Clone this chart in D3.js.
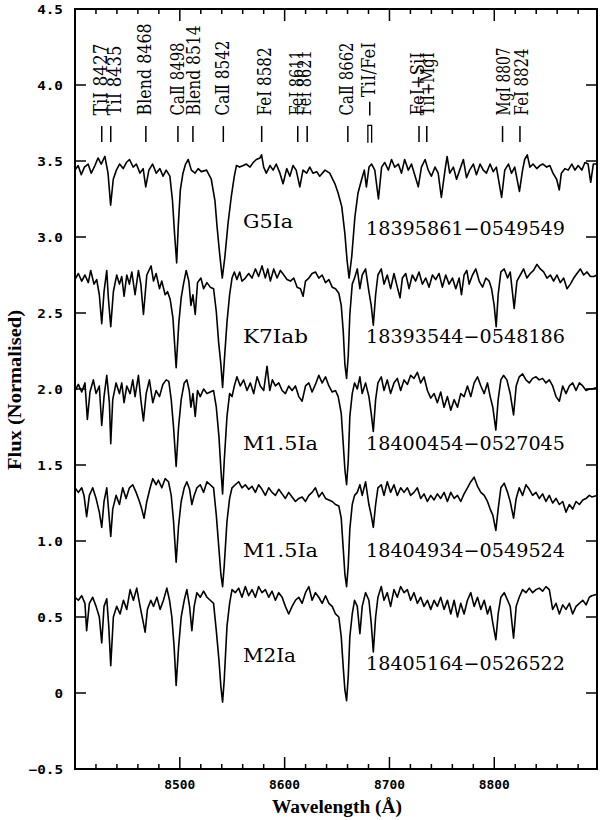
<!DOCTYPE html>
<html><head><meta charset="utf-8">
<script src="https://cdn.jsdelivr.net/npm/d3@7"></script>
<style>body{margin:0;background:#fff}</style>
</head><body><svg id="chart" width="600" height="820"></svg>
<script>
// ---------- DATA ----------
const spectralTypes = ["G5Ia", "K7Iab", "M1.5Ia", "M1.5Ia", "M2Ia"];
const starIds = ["18395861\u22120549549", "18393544\u22120548186", "18400454\u22120527045", "18404934\u22120549524", "18405164\u22120526522"];
const labelFlux = [3.06, 2.30, 1.60, 0.895, 0.204];
const idFlux = [3.013, 2.30, 1.60, 0.895, 0.151];

const specG5Ia = [[8400,3.44],[8403,3.47],[8406,3.41],[8409,3.46],[8412.5,3.48],[8415.5,3.42],[8419,3.47],[8422,3.52],[8425,3.48],[8428.5,3.53],[8431.5,3.42],[8434,3.21],[8436.5,3.38],[8439.5,3.44],[8442.5,3.48],[8446,3.45],[8449,3.49],[8452,3.51],[8455.5,3.46],[8458.5,3.48],[8462,3.42],[8465,3.45],[8467.5,3.33],[8470.5,3.44],[8474,3.48],[8477.5,3.42],[8481,3.45],[8484,3.40],[8487,3.44],[8490.5,3.40],[8493,3.24],[8495,3.02],[8497,2.83],[8498.5,3.07],[8500.5,3.31],[8503,3.42],[8505.5,3.48],[8508,3.51],[8511,3.44],[8514.5,3.42],[8517.5,3.45],[8520.5,3.43],[8525.5,3.44],[8530,3.38],[8533.5,3.24],[8535.5,3.07],[8538,2.89],[8540.5,2.73],[8543,2.87],[8546,3.09],[8549,3.26],[8552,3.40],[8554,3.47],[8557,3.46],[8560.5,3.47],[8563.5,3.48],[8567,3.46],[8570,3.49],[8573,3.51],[8576.5,3.52],[8578,3.54],[8580,3.46],[8582.5,3.42],[8586,3.47],[8589,3.44],[8592,3.48],[8595.5,3.42],[8598.5,3.35],[8602,3.45],[8605,3.40],[8608,3.47],[8611,3.44],[8614.5,3.33],[8617.5,3.44],[8621,3.42],[8624,3.46],[8627,3.42],[8630.5,3.43],[8633.5,3.40],[8638.5,3.44],[8643,3.42],[8648,3.35],[8651,3.29],[8654.5,3.20],[8657.5,3.02],[8659.5,2.85],[8661.5,2.73],[8664,2.87],[8667,3.13],[8670,3.29],[8673.5,3.38],[8676,3.44],[8678,3.33],[8680.5,3.46],[8683,3.48],[8686,3.44],[8689.5,3.25],[8692.5,3.46],[8695.5,3.49],[8699,3.44],[8702,3.51],[8705,3.46],[8708.5,3.48],[8711.5,3.42],[8714.5,3.51],[8718,3.44],[8721,3.48],[8724.5,3.40],[8727.5,3.33],[8730.5,3.46],[8734,3.51],[8737,3.44],[8740,3.40],[8743.5,3.46],[8746.5,3.42],[8749.5,3.26],[8753,3.44],[8755,3.53],[8757.5,3.42],[8761,3.46],[8764,3.38],[8767,3.44],[8770.5,3.51],[8773.5,3.39],[8776.5,3.44],[8780,3.48],[8783,3.41],[8786.5,3.48],[8789.5,3.44],[8792.5,3.42],[8796,3.48],[8799,3.43],[8802,3.46],[8807,3.26],[8810,3.44],[8813.5,3.48],[8816.5,3.42],[8819.5,3.46],[8824,3.30],[8827,3.44],[8829,3.51],[8831.5,3.54],[8834,3.46],[8837,3.48],[8840.5,3.45],[8843.5,3.47],[8846.5,3.48],[8850,3.46],[8853,3.47],[8856,3.42],[8859.5,3.38],[8862,3.31],[8864,3.42],[8867.5,3.45],[8870.5,3.44],[8874,3.48],[8877,3.44],[8880,3.47],[8883.5,3.44],[8886.5,3.49],[8889.5,3.48],[8892,3.36],[8894.5,3.48],[8897.5,3.48]];

const specK7Iab = [[8400,2.72],[8403.2,2.76],[8406.4,2.71],[8409.5,2.75],[8412.7,2.70],[8415,2.78],[8418.1,2.69],[8420.7,2.72],[8423.2,2.62],[8425.5,2.43],[8427.7,2.64],[8430.3,2.78],[8431.8,2.60],[8434.1,2.41],[8436.6,2.64],[8439.8,2.75],[8442.4,2.69],[8444.6,2.74],[8446.8,2.61],[8449.4,2.75],[8451.9,2.69],[8454.2,2.77],[8457.3,2.62],[8460.5,2.78],[8462.8,2.69],[8465.3,2.49],[8468.5,2.75],[8472.6,2.81],[8474.9,2.71],[8477.4,2.76],[8480.6,2.66],[8482.8,2.71],[8486,2.62],[8488.3,2.64],[8490.8,2.59],[8493.4,2.47],[8496.5,2.14],[8499.1,2.44],[8501.3,2.60],[8503.5,2.69],[8506.1,2.78],[8508.6,2.71],[8510.6,2.55],[8512.5,2.62],[8514.7,2.49],[8516.9,2.70],[8520.1,2.73],[8522.7,2.66],[8525.9,2.70],[8529,2.67],[8532.2,2.66],[8534.8,2.51],[8537,2.31],[8539.2,2.16],[8540.8,2.01],[8542.4,2.18],[8545,2.44],[8547.5,2.62],[8549.8,2.73],[8552,2.77],[8554.5,2.72],[8557.1,2.77],[8559.3,2.71],[8562.5,2.73],[8565.7,2.76],[8568.9,2.73],[8572.1,2.79],[8575.2,2.74],[8578.4,2.81],[8581.6,2.73],[8583.9,2.79],[8586.4,2.71],[8589.6,2.79],[8592.8,2.73],[8596,2.78],[8599.2,2.75],[8602.3,2.72],[8605.5,2.71],[8608.7,2.73],[8611.9,2.67],[8615.1,2.66],[8617.6,2.61],[8619.9,2.71],[8623.1,2.73],[8626.2,2.76],[8629.4,2.77],[8632.6,2.73],[8635.8,2.75],[8639,2.70],[8642.2,2.72],[8645.4,2.67],[8648.5,2.66],[8651.7,2.63],[8654,2.55],[8655.9,2.38],[8657.5,2.16],[8659.1,2.07],[8660.7,2.22],[8662.2,2.49],[8664.5,2.69],[8666.7,2.73],[8669.3,2.79],[8671.8,2.66],[8674,2.75],[8677.2,2.79],[8680.4,2.64],[8682.6,2.55],[8684.6,2.42],[8686.8,2.62],[8689,2.75],[8692.2,2.79],[8694.8,2.69],[8697.9,2.75],[8701.1,2.66],[8704.3,2.76],[8707.5,2.67],[8710.1,2.60],[8712.3,2.73],[8715.5,2.76],[8718.7,2.66],[8721.8,2.75],[8725,2.71],[8728.2,2.77],[8731.4,2.69],[8734.6,2.73],[8737.8,2.67],[8741,2.75],[8744.1,2.72],[8747.3,2.76],[8750.5,2.67],[8753.7,2.75],[8756.9,2.69],[8760.1,2.73],[8763.3,2.66],[8766.5,2.73],[8768.7,2.62],[8771.2,2.75],[8773.8,2.78],[8776,2.69],[8779.2,2.75],[8782.4,2.79],[8785.6,2.71],[8788.8,2.67],[8792,2.73],[8795.1,2.71],[8797.4,2.66],[8799.9,2.55],[8801.8,2.41],[8803.7,2.62],[8806.3,2.77],[8809.5,2.79],[8812.7,2.73],[8815.2,2.77],[8819,2.53],[8821.6,2.71],[8824.8,2.75],[8828,2.79],[8831.1,2.73],[8834.3,2.76],[8837.5,2.78],[8840.7,2.82],[8843.9,2.79],[8847.1,2.77],[8850.3,2.73],[8853.5,2.75],[8856.6,2.71],[8859.8,2.75],[8863,2.70],[8866.2,2.73],[8869.4,2.66],[8872.6,2.69],[8875.8,2.73],[8878.9,2.76],[8882.1,2.79],[8885.3,2.75],[8888.5,2.77],[8891.7,2.74],[8895,2.74],[8898,2.75]];

const specM15IaA = [[8400,1.99],[8403.2,2.03],[8406.4,1.98],[8409.5,2.04],[8411.8,1.80],[8414.3,1.98],[8417.5,2.06],[8420.1,1.97],[8423.2,2.02],[8425.5,1.76],[8427.7,1.95],[8430.3,2.09],[8432.8,1.91],[8434.1,1.64],[8436,1.93],[8439.2,2.04],[8442.4,1.97],[8444.6,2.04],[8446.8,1.91],[8449.4,2.02],[8452.6,1.97],[8455.1,2.06],[8457.3,1.95],[8460.5,2.09],[8462.8,1.93],[8465.3,1.79],[8467.9,1.97],[8471,2.06],[8474.2,1.91],[8477.4,1.99],[8480.6,1.95],[8483.8,2.03],[8487,2.06],[8489.5,2.05],[8491.8,1.93],[8494,1.75],[8496.5,1.49],[8498.8,1.75],[8501.3,1.93],[8504.2,2.04],[8506.7,2.06],[8509,1.99],[8510.6,1.88],[8512.5,1.97],[8514.7,1.82],[8516.9,1.99],[8519.5,1.95],[8522.7,2.00],[8525.9,1.97],[8529,1.98],[8532.2,1.99],[8534.8,1.88],[8537.3,1.69],[8539.2,1.47],[8540.8,1.31],[8542.4,1.53],[8545,1.82],[8547.5,1.97],[8549.8,1.95],[8552,2.02],[8554.5,2.08],[8557.7,2.02],[8560.9,2.06],[8564.1,1.99],[8567.3,2.04],[8570.5,1.97],[8573.7,2.08],[8576.8,2.02],[8580,1.99],[8583.2,2.15],[8585.8,1.99],[8588.3,2.06],[8591.2,2.02],[8594.4,2.04],[8597.6,1.99],[8600.7,1.97],[8603.9,2.02],[8607.1,1.99],[8610.3,2.02],[8613.5,1.95],[8616.7,1.92],[8619.9,2.02],[8623.1,2.04],[8626.2,1.98],[8629.4,2.03],[8632.6,2.09],[8635.8,2.04],[8639,2.08],[8642.2,2.02],[8645.4,1.98],[8648.5,1.99],[8651.1,1.95],[8654,1.84],[8655.9,1.64],[8657.5,1.47],[8659.1,1.37],[8660.7,1.53],[8662.2,1.82],[8664.5,1.97],[8666.7,2.04],[8669.3,2.00],[8671.8,2.08],[8674,1.97],[8677.2,2.04],[8680.4,1.95],[8682.6,1.84],[8684.6,1.72],[8686.8,1.93],[8689,2.04],[8692.2,2.08],[8694.8,1.99],[8697.9,2.06],[8701.1,1.97],[8704.3,2.04],[8707.5,2.07],[8710.7,1.99],[8713.9,2.06],[8717.1,2.03],[8720.2,2.09],[8723.4,2.07],[8726.6,2.11],[8729.8,2.04],[8733,2.08],[8736.2,1.99],[8739.4,1.94],[8742.6,1.97],[8745.7,1.91],[8748.9,1.98],[8752.1,1.88],[8755.3,1.95],[8758.5,1.86],[8761.7,1.93],[8764.9,1.88],[8768,1.97],[8771.2,1.95],[8774.4,2.02],[8777.6,1.95],[8780.8,2.04],[8784,2.08],[8787.2,2.02],[8790.4,1.97],[8793.5,2.04],[8796.1,1.95],[8798.6,1.88],[8801.5,1.73],[8803.7,1.93],[8806.3,2.06],[8808.8,2.09],[8812,2.06],[8815.2,1.97],[8818.4,1.83],[8820.9,2.02],[8823.8,2.08],[8827,2.10],[8830.2,2.06],[8833.4,2.04],[8836.6,2.07],[8839.8,2.08],[8842.9,2.06],[8846.1,2.07],[8849.3,2.04],[8852.5,2.06],[8855.7,2.02],[8858.9,1.95],[8862.1,1.92],[8865.3,2.02],[8868.4,1.97],[8871.6,2.02],[8874.8,2.04],[8878,1.99],[8881.2,2.04],[8884.4,2.02],[8887.6,1.99],[8890.7,2.00],[8893,2.00],[8898,2.01]];

const specM15IaB = [[8400,1.35],[8403.2,1.32],[8406.4,1.35],[8408.6,1.30],[8411.1,1.16],[8413.7,1.30],[8416.9,1.35],[8420.1,1.28],[8423.2,1.19],[8425.5,1.09],[8427.7,1.26],[8430.3,1.35],[8432.2,1.19],[8434.1,1.03],[8436,1.21],[8439.2,1.30],[8442.4,1.24],[8445.5,1.35],[8448.7,1.28],[8451.9,1.35],[8455.1,1.37],[8458.3,1.32],[8461.5,1.26],[8463.7,1.21],[8465.9,1.15],[8468.5,1.26],[8471.7,1.35],[8474.2,1.41],[8477.4,1.37],[8479.6,1.40],[8482.8,1.35],[8486,1.41],[8489.2,1.39],[8491.8,1.30],[8494,1.13],[8496.5,0.86],[8498.8,1.10],[8501.3,1.26],[8504.2,1.35],[8506.7,1.39],[8509.3,1.34],[8511.5,1.24],[8513.7,1.30],[8516.3,1.35],[8519.5,1.37],[8522.7,1.32],[8525.9,1.39],[8529,1.37],[8532.2,1.35],[8534.8,1.17],[8537.3,0.95],[8539.2,0.78],[8540.8,0.70],[8542.4,0.84],[8545,1.13],[8547.5,1.28],[8549.8,1.35],[8552.9,1.37],[8556.1,1.39],[8559.3,1.35],[8562.5,1.37],[8565.7,1.34],[8568.9,1.36],[8572.1,1.32],[8575.2,1.37],[8578.4,1.34],[8581.6,1.30],[8584.8,1.35],[8588,1.32],[8591.2,1.30],[8594.4,1.34],[8597.6,1.31],[8600.7,1.28],[8603.9,1.32],[8607.1,1.29],[8610.3,1.26],[8613.5,1.28],[8616.7,1.29],[8619.9,1.26],[8623.1,1.30],[8626.2,1.32],[8629.4,1.35],[8632.6,1.29],[8635.8,1.32],[8639,1.28],[8642.2,1.27],[8645.4,1.26],[8648.5,1.24],[8651.7,1.23],[8654,1.15],[8655.9,0.95],[8657.5,0.78],[8659.1,0.70],[8660.7,0.84],[8662.2,1.08],[8664.5,1.24],[8666.7,1.30],[8669.3,1.32],[8671.8,1.37],[8674,1.30],[8677.2,1.39],[8680.4,1.24],[8682.6,1.17],[8684.6,1.09],[8686.8,1.24],[8689,1.35],[8692.2,1.37],[8694.8,1.30],[8697.9,1.39],[8701.1,1.32],[8704.3,1.37],[8707.5,1.30],[8710.7,1.35],[8713.9,1.32],[8717.1,1.35],[8720.2,1.30],[8723.4,1.32],[8726.6,1.35],[8729.8,1.28],[8733,1.31],[8736.2,1.26],[8739.4,1.30],[8742.6,1.27],[8745.7,1.31],[8748.9,1.28],[8752.1,1.32],[8755.3,1.26],[8758.5,1.32],[8761.7,1.28],[8764.9,1.30],[8768,1.26],[8771.2,1.31],[8774.4,1.35],[8777.6,1.39],[8780.8,1.42],[8784,1.36],[8787.2,1.32],[8790.4,1.30],[8793.5,1.26],[8796.1,1.21],[8798.6,1.17],[8801.5,1.07],[8803.7,1.21],[8806.3,1.35],[8809.5,1.38],[8812.7,1.32],[8815.2,1.26],[8818.4,1.15],[8820.9,1.28],[8823.8,1.35],[8827,1.30],[8830.2,1.37],[8833.4,1.34],[8836.6,1.30],[8839.8,1.32],[8842.9,1.28],[8846.1,1.31],[8849.3,1.26],[8852.5,1.30],[8855.7,1.25],[8858.9,1.28],[8862.1,1.24],[8865.3,1.26],[8868.4,1.19],[8871.6,1.24],[8874.8,1.21],[8878,1.26],[8881.2,1.24],[8884.4,1.27],[8887.6,1.28],[8890.7,1.30],[8893,1.29],[8898,1.30]];

const specM2Ia = [[8400,0.63],[8403.2,0.61],[8406.4,0.64],[8409.5,0.59],[8411.1,0.41],[8413.7,0.59],[8416.9,0.63],[8420.1,0.57],[8423.2,0.50],[8425.5,0.33],[8427.7,0.57],[8430.3,0.62],[8432.2,0.44],[8434.1,0.18],[8436.6,0.50],[8439.8,0.57],[8443,0.52],[8446.2,0.61],[8449.4,0.55],[8452.6,0.68],[8455.7,0.61],[8458.9,0.69],[8462.1,0.57],[8464.7,0.48],[8466.9,0.40],[8469.1,0.55],[8472.3,0.61],[8474.9,0.57],[8478.1,0.63],[8481.2,0.55],[8484.4,0.61],[8487.6,0.69],[8490.2,0.61],[8492.4,0.50],[8494.6,0.30],[8496.5,0.05],[8498.8,0.30],[8501.3,0.50],[8504.2,0.61],[8506.7,0.68],[8509.3,0.57],[8511.5,0.41],[8513.7,0.57],[8516.3,0.66],[8519.5,0.63],[8522.7,0.67],[8525.9,0.63],[8529,0.61],[8532.2,0.59],[8534.8,0.41],[8537.3,0.22],[8539.2,0.04],[8540.8,-0.06],[8542.4,0.09],[8545,0.44],[8547.5,0.59],[8549.8,0.68],[8552.9,0.66],[8556.1,0.69],[8559.3,0.63],[8562.5,0.70],[8565.7,0.64],[8568.9,0.68],[8572.1,0.63],[8575.2,0.70],[8578.4,0.66],[8581.6,0.68],[8584.8,0.63],[8588,0.67],[8591.2,0.61],[8594.4,0.66],[8597.6,0.63],[8600.7,0.57],[8603.9,0.52],[8607.1,0.57],[8610.3,0.61],[8613.5,0.63],[8616.7,0.59],[8619.9,0.66],[8623.1,0.70],[8626.2,0.61],[8629.4,0.66],[8632.6,0.63],[8635.8,0.59],[8639,0.64],[8642.2,0.59],[8645.4,0.57],[8648.5,0.52],[8651.7,0.50],[8654,0.37],[8655.9,0.17],[8657.5,0.02],[8659.1,-0.05],[8660.7,0.11],[8662.2,0.37],[8664.5,0.52],[8666.7,0.61],[8669.3,0.57],[8671.8,0.39],[8674,0.57],[8677.2,0.66],[8680.4,0.61],[8682.6,0.46],[8684.6,0.27],[8686.8,0.50],[8689,0.63],[8692.2,0.70],[8694.8,0.61],[8697.9,0.66],[8701.1,0.57],[8704.3,0.68],[8707.5,0.63],[8710.7,0.70],[8713.9,0.66],[8717.1,0.68],[8720.2,0.61],[8723.4,0.66],[8726.6,0.59],[8729.8,0.63],[8733,0.57],[8736.2,0.61],[8739.4,0.55],[8742.6,0.61],[8745.7,0.57],[8748.9,0.63],[8752.1,0.55],[8755.3,0.61],[8758.5,0.52],[8761.7,0.61],[8764.9,0.50],[8768,0.59],[8771.2,0.52],[8774.4,0.61],[8777.6,0.66],[8780.8,0.57],[8784,0.63],[8787.2,0.55],[8790.4,0.61],[8793.5,0.52],[8796.1,0.57],[8798.6,0.46],[8801.5,0.35],[8803.7,0.52],[8806.3,0.63],[8809.5,0.66],[8812.7,0.61],[8815.2,0.57],[8818.4,0.36],[8820.9,0.57],[8823.8,0.63],[8827,0.68],[8830.2,0.66],[8833.4,0.69],[8836.6,0.66],[8839.8,0.68],[8842.9,0.69],[8846.1,0.67],[8849.3,0.70],[8852.5,0.68],[8855.7,0.55],[8858.9,0.59],[8862.1,0.52],[8865.3,0.58],[8868.4,0.55],[8871.6,0.59],[8874.8,0.52],[8878,0.57],[8881.2,0.59],[8884.4,0.61],[8887.6,0.58],[8890.7,0.63],[8893,0.64],[8898,0.65]];

const spectra = [specG5Ia, specK7Iab, specM15IaA, specM15IaB, specM2Ia];

const lineNames = ["TiI 8427","TiI 8435","Blend 8468","Ca\u2161 8498","Blend 8514","Ca\u2161 8542","FeI 8582","FeI 8611","FeI 8621","Ca\u2161 8662","TiI/FeI","FeI+SiI","TiI+MgI","MgI 8807","FeI 8824"];
const lineMarkWave = [8425.5,8434.1,8467.6,8498.2,8512.5,8541.5,8578.1,8612.5,8621.5,8660.3,8681.2,8728.2,8735.6,8807.9,8824.5];
const lineTextWave = [8423.4,8436.8,8465.7,8497.5,8512.8,8539.8,8580.4,8611.1,8618.9,8658.9,8679.6,8725.8,8736.2,8808.7,8825.4];
const lineTextFlux = [3.80,3.80,3.80,3.80,3.80,3.80,3.80,3.80,3.80,3.80,3.92,3.80,3.80,3.80,3.80];

const xTicks = [8500, 8600, 8700, 8800];
const yTicks = [-0.5, 0, 0.5, 1.0, 1.5, 2.0, 2.5, 3.0, 3.5, 4.0, 4.5];
const yTickLabels = ["\u22120.5","0","0.5","1.0","1.5","2.0","2.5","3.0","3.5","4.0","4.5"];

// ---------- DRAW ----------
const svg = d3.select("#chart");
const L = 75, R = 597, T = 9, B = 769;
const x = d3.scaleLinear().domain([8400, 8898]).range([L, R]);
const y = d3.scaleLinear().domain([-0.5, 4.5]).range([B, T]);

const serif = "'DejaVu Serif', 'Liberation Serif', serif";
const mono = "'DejaVu Sans Mono', monospace";

// spectra
const line = d3.line().x(d => x(d[0])).y(d => y(d[1]));
svg.append("g").selectAll("path").data(spectra).join("path")
  .attr("d", line).attr("fill", "none").attr("stroke", "#000")
  .attr("stroke-width", 1.6).attr("stroke-linejoin", "round");

// frame & ticks
const axG = svg.append("g").attr("stroke", "#000");
axG.append("rect").attr("x", L).attr("y", T).attr("width", R - L).attr("height", B - T)
  .attr("fill", "none").attr("stroke-width", 2);

const minorX = d3.range(8420, 8898, 20).filter(v => v % 100 !== 0);
[[B, -1], [T, 1]].forEach(([yy, dir]) => {
  xTicks.forEach(v => axG.append("line").attr("x1", x(v)).attr("x2", x(v))
    .attr("y1", yy).attr("y2", yy + dir * 12).attr("stroke-width", 1.5));
  minorX.forEach(v => axG.append("line").attr("x1", x(v)).attr("x2", x(v))
    .attr("y1", yy).attr("y2", yy + dir * 5).attr("stroke-width", 1.5));
});
[[L, 1], [R, -1]].forEach(([xx, dir]) => {
  yTicks.forEach(v => axG.append("line").attr("x1", xx).attr("x2", xx + dir * 11)
    .attr("y1", y(v)).attr("y2", y(v)).attr("stroke-width", 1.5));
});

// tick labels
svg.append("g").selectAll("text").data(xTicks).join("text")
  .attr("x", d => x(d)).attr("y", 789).attr("text-anchor", "middle")
  .attr("font-family", mono).attr("font-weight", "bold").attr("font-size", 12)
  .attr("textLength", 31).attr("lengthAdjust", "spacingAndGlyphs")
  .text(d => d);
svg.append("g").selectAll("text").data(yTicks).join("text")
  .attr("x", 63).attr("y", d => y(d) + 4.5).attr("text-anchor", "end")
  .attr("font-family", mono).attr("font-weight", "bold").attr("font-size", 12)
  .attr("textLength", (d, i) => yTickLabels[i].length * 8.6).attr("lengthAdjust", "spacingAndGlyphs")
  .text((d, i) => yTickLabels[i]);

// axis titles
svg.append("text").attr("x", 337).attr("y", 813).attr("text-anchor", "middle")
  .attr("font-family", "'Liberation Serif', serif").attr("font-weight", "bold").attr("font-size", 18)
  .attr("textLength", 130).attr("lengthAdjust", "spacingAndGlyphs")
  .text("Wavelength (\u00C5)");
svg.append("text").attr("transform", "translate(21,390) rotate(-90)").attr("text-anchor", "middle")
  .attr("font-family", "'Liberation Serif', serif").attr("font-weight", "bold").attr("font-size", 18)
  .attr("textLength", 160).attr("lengthAdjust", "spacingAndGlyphs")
  .text("Flux (Normalised)");

// star labels
const typeWidths = [50, 65, 75, 75, 53];
svg.append("g").selectAll("text").data(spectralTypes).join("text")
  .attr("x", 243).attr("y", (d, i) => y(labelFlux[i]))
  .attr("font-family", serif).attr("font-size", 18.5)
  .attr("textLength", (d, i) => typeWidths[i]).attr("lengthAdjust", "spacingAndGlyphs")
  .text(d => d);
svg.append("g").selectAll("text").data(starIds).join("text")
  .attr("x", 366).attr("y", (d, i) => y(idFlux[i]))
  .attr("font-family", serif).attr("font-size", 18.5)
  .attr("textLength", 199).attr("lengthAdjust", "spacingAndGlyphs")
  .text(d => d);

// line identifications
const lineTextLen = [72,70,92,73,90,75,68,65,65,73,55,63,63,68,67];
const mk = svg.append("g");
lineNames.forEach((name, i) => {
  const tx = x(lineTextWave[i]) + 7, ty = y(lineTextFlux[i]);
  mk.append("text").attr("transform", `translate(${tx},${ty}) rotate(-90)`)
    .attr("font-family", serif).attr("font-size", 19)
    .attr("textLength", lineTextLen[i]).attr("lengthAdjust", "spacingAndGlyphs")
    .text(name);
  if (name === "TiI/FeI") {
    const a = x(lineMarkWave[i] - 1.8), b = x(lineMarkWave[i] + 1.8);
    mk.append("path").attr("d", `M${a},${y(3.62)}V${y(3.735)}H${b}V${y(3.62)}`)
      .attr("fill", "none").attr("stroke", "#000").attr("stroke-width", 1.3);
    mk.append("line").attr("x1", x(lineMarkWave[i])).attr("x2", x(lineMarkWave[i]))
      .attr("y1", y(3.80)).attr("y2", y(3.89)).attr("stroke", "#000").attr("stroke-width", 1.5);
  } else {
    mk.append("line").attr("x1", x(lineMarkWave[i])).attr("x2", x(lineMarkWave[i]))
      .attr("y1", y(3.73)).attr("y2", y(3.625)).attr("stroke", "#000").attr("stroke-width", 1.5);
  }
});
</script></body></html>
